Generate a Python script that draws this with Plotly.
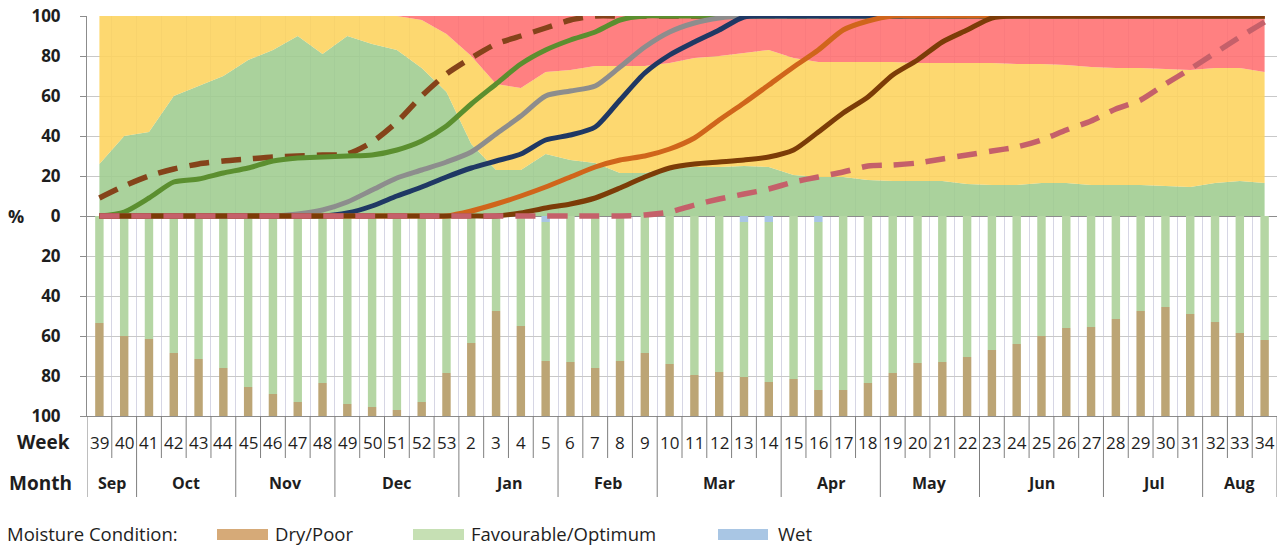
import plotly.graph_objects as go

# ---------------- data ----------------
weeks = [39, 40, 41, 42, 43, 44, 45, 46, 47, 48, 49, 50, 51, 52, 53,
         2, 3, 4, 5, 6, 7, 8, 9, 10, 11, 12, 13, 14, 15, 16, 17, 18,
         19, 20, 21, 22, 23, 24, 25, 26, 27, 28, 29, 30, 31, 32, 33, 34]
month_names = ["Sep", "Oct", "Nov", "Dec", "Jan", "Feb", "Mar", "Apr", "May", "Jun", "Jul", "Aug"]
month_week_counts = [2, 4, 4, 5, 4, 4, 5, 4, 4, 5, 4, 3]

# top panel: stacked bands (upper boundary of each band, %)
green_band_top = [26, 40, 42, 60, 65, 70, 78, 83, 90, 81, 90, 86, 83, 74, 62,
                  36, 23, 23, 31, 28, 26.5, 21.5, 21.5, 24, 24.5, 24.5, 25, 24.5, 20.5, 19.5, 19.5, 18,
                  17.5, 17.5, 17.5, 16, 15.5, 15.5, 16.5, 16.5, 15.5, 15.5, 15.5, 15, 14.5, 16.5, 17.5, 16.5]
yellow_band_top = [100, 100, 100, 100, 100, 100, 100, 100, 100, 100, 100, 100, 100, 98, 91,
                   80, 66, 64, 72, 73, 75, 75, 75, 76.5, 79, 80, 81.5, 83, 79, 77, 77, 77,
                   77, 76.5, 76.5, 76.5, 76.5, 76, 76, 75.5, 74.5, 74, 74, 73.5, 73, 74, 74, 72]
red_band_top = [100] * 48

# top panel: cumulative curves (%)
dashed_brown = [9, 15, 20, 23.5, 26, 27.5, 28.5, 29.5, 30, 30.5, 31, 37, 47, 60, 71,
                79, 86, 90, 94, 98, 100, 100, 100, 100, 100, 100, 100, 100, 100, 100, 100, 100,
                100, 100, 100, 100, 100, 100, 100, 100, 100, 100, 100, 100, 100, 100, 100, 100]
green_curve = [0, 2, 9, 17, 18.5, 21.5, 24, 27.5, 29, 29.5, 30, 30.5, 33, 37.5, 45,
               56, 66, 76, 83, 88, 92, 98, 100, 100, 100, 100, 100, 100, 100, 100, 100, 100,
               100, 100, 100, 100, 100, 100, 100, 100, 100, 100, 100, 100, 100, 100, 100, 100]
gray_curve = [0, 0, 0, 0, 0, 0, 0, 0, 1, 3, 7, 13, 19, 23, 27,
              32, 41, 50, 60, 62.5, 65, 74.5, 84.5, 92, 96.5, 99, 100, 100, 100, 100, 100, 100,
              100, 100, 100, 100, 100, 100, 100, 100, 100, 100, 100, 100, 100, 100, 100, 100]
navy_curve = [0, 0, 0, 0, 0, 0, 0, 0, 0, 0, 1.5, 5, 10, 14.5, 19.5,
              24, 27.5, 31, 38, 40.5, 44.5, 58, 71.5, 80.5, 87, 93, 99.5, 100, 100, 100, 100, 100,
              100, 100, 100, 100, 100, 100, 100, 100, 100, 100, 100, 100, 100, 100, 100, 100]
orange_curve = [0, 0, 0, 0, 0, 0, 0, 0, 0, 0, 0, 0, 0, 0, 0,
                2.5, 6, 10, 14.5, 19.5, 24.5, 28, 30, 33.5, 39, 48, 56.5, 65.5, 74.5, 83, 93, 97.5,
                100, 100, 100, 100, 100, 100, 100, 100, 100, 100, 100, 100, 100, 100, 100, 100]
darkbrown_curve = [0, 0, 0, 0, 0, 0, 0, 0, 0, 0, 0, 0, 0, 0, 0,
                   0, 0, 1.5, 4, 6, 9, 14, 19.5, 24, 26, 27, 28, 29.5, 33, 42, 51.5, 59.5,
                   70.5, 78, 87, 93, 99, 100, 100, 100, 100, 100, 100, 100, 100, 100, 100, 100]
pink_dashed = [0, 0, 0, 0, 0, 0, 0, 0, 0, 0, 0, 0, 0, 0, 0,
               0, 0, 0, 0, 0, 0, 0, 0.5, 2, 5.5, 8.5, 11, 13.5, 17, 19.5, 22, 25,
               25.5, 26.5, 28.5, 30.5, 32.5, 34.5, 38, 43, 47.5, 53.5, 58, 66, 73.5, 81.5, 89.5, 97]

# bottom panel: moisture condition (%)
wet = [0, 0, 0, 0, 0, 0, 0, 0, 0, 0, 0, 0, 0, 0, 0,
       0, 0, 0, 3, 0, 0, 0, 0, 0, 0, 0, 3, 3, 0, 3, 0, 0,
       0, 0, 0, 0, 0, 0, 0, 0, 0, 0, 0, 0, 0, 0, 0, 0]
favourable = [53.5, 60, 61.5, 68.5, 71.5, 76, 85.5, 89, 93, 83.5, 94, 95.5, 97, 93, 78.5,
              63.5, 47.5, 55, 69.5, 73, 76, 72.5, 68.5, 74, 79.5, 78, 77.5, 80, 81.5, 84, 87, 83.5,
              78.5, 73.5, 73, 70.5, 67, 64, 60, 56, 55.5, 51.5, 47.5, 45.5, 49, 53, 58.5, 62]
dry = [46.5, 40, 38.5, 31.5, 28.5, 24, 14.5, 11, 7, 16.5, 6, 4.5, 3, 7, 21.5,
       36.5, 52.5, 45, 27.5, 27, 24, 27.5, 31.5, 26, 20.5, 22, 19.5, 17, 18.5, 13, 13, 16.5,
       21.5, 26.5, 27, 29.5, 33, 36, 40, 44, 44.5, 48.5, 52.5, 54.5, 51, 47, 41.5, 38]

y_tick_vals = [-100, -80, -60, -40, -20, 0, 20, 40, 60, 80, 100]
y_tick_text = ["100", "80", "60", "40", "20", "0", "20", "40", "60", "80", "100"]

# ---------------- figure ----------------
FONT = "Open Sans"
TXT = "#1e1e1e"
x = list(range(len(weeks)))
fig = go.Figure()

# bands (non-overlapping fills so grid shows faintly through)
fig.add_trace(go.Scatter(x=x, y=green_band_top, mode="none", fill="tozeroy",
                         fillcolor="rgba(158,204,142,0.88)", hoverinfo="skip"))
fig.add_trace(go.Scatter(x=x, y=yellow_band_top, mode="none", fill="tonexty",
                         fillcolor="rgba(253,211,92,0.88)", hoverinfo="skip"))
fig.add_trace(go.Scatter(x=x, y=red_band_top, mode="none", fill="tonexty",
                         fillcolor="rgba(255,110,111,0.88)", hoverinfo="skip"))

# bars below zero (stacked downward)
bw = 0.34
fig.add_trace(go.Bar(x=x, y=[-v for v in wet], width=bw, marker_color="#a9c6e4", marker_line_width=0))
fig.add_trace(go.Bar(x=x, y=[-v for v in favourable], width=bw, marker_color="#b5d6a4", marker_line_width=0))
fig.add_trace(go.Bar(x=x, y=[-v for v in dry], width=bw, marker_color="#bca575", marker_line_width=0))

# curves
def curve(vals, color, width=5, dash="solid"):
    fig.add_trace(go.Scatter(x=x, y=vals, mode="lines",
                             line=dict(color=color, width=width, dash=dash, shape="spline", smoothing=0.7),
                             hoverinfo="skip"))

curve(dashed_brown, "#85431a", 5.5, "20px,12px")
curve(green_curve, "#5b8f2f")
curve(gray_curve, "#8d8d8d")
curve(navy_curve, "#1f3864")
curve(orange_curve, "#d0651b")
curve(darkbrown_curve, "#7c3c07")
curve(pink_dashed, "#c5606a", 5.5, "20px,12px")

fig.update_layout(
    width=1287, height=547,
    margin=dict(l=87, r=10, t=16, b=131, autoexpand=False),
    plot_bgcolor="white", paper_bgcolor="white",
    showlegend=False, barmode="relative",
    font=dict(family=FONT, color=TXT),
)
fig.update_xaxes(range=[-0.5, len(weeks) - 0.5], tickmode="linear", tick0=-0.5, dtick=1,
                 showticklabels=False, ticks="", showgrid=True, gridcolor="#d6d6e4", gridwidth=1,
                 zeroline=False, showline=True, linecolor="#8c8c8c", linewidth=1, automargin=False)
fig.update_yaxes(range=[-100, 100], tickmode="array", tickvals=y_tick_vals,
                 ticktext=["<b>%s</b>" % t for t in y_tick_text],
                 tickfont=dict(family=FONT, size=17, color=TXT),
                 ticks="outside", ticklen=6, tickcolor="#8c8c8c", ticklabelstandoff=16,
                 ticklabeloverflow="allow",
                 showgrid=True, gridcolor="#c8c8c8", gridwidth=1,
                 zeroline=True, zerolinecolor="#8c8c8c", zerolinewidth=1,
                 showline=True, linecolor="#8c8c8c", linewidth=1, automargin=False)

# page-pixel helpers (plot area spans x 87..1277, y 16..416)
plot_left, plot_w, plot_top, plot_h = 87, 1190, 16, 400
def px(X):
    return (X - plot_left) / plot_w
def py(Y):
    return (plot_top + plot_h - Y) / plot_h

ann = []
shapes = []
def text(xv, yv, s, size, xref="paper", xanchor="center", bold=False):
    ann.append(dict(x=xv, y=yv, xref=xref, yref="paper", text=("<b>%s</b>" % s) if bold else s,
                    showarrow=False, xanchor=xanchor, yanchor="middle",
                    font=dict(size=size, family=FONT, color=TXT)))

text(px(16), py(216), "%", 18, bold=True)

# week row
for i, w in enumerate(weeks):
    text(i, py(442), str(w), 17, xref="x")
text(px(44), py(442), "Week", 19, bold=True)
text(px(40), py(483), "Month", 19, bold=True)

# month row
month_bounds = [0]
for c in month_week_counts:
    month_bounds.append(month_bounds[-1] + c)
for name, a, b in zip(month_names, month_bounds[:-1], month_bounds[1:]):
    text((a + b - 1) / 2, py(483), name, 16, xref="x", bold=True)

# separators
for k in range(len(weeks) + 1):
    long_ = k in month_bounds
    shapes.append(dict(type="line", xref="x", yref="paper", x0=k - 0.5, x1=k - 0.5,
                       y0=0, y1=py(497) if long_ else py(458),
                       line=dict(color="#7f7f7f", width=1)))

# legend
text(px(5), py(533), "Moisture Condition:", 18.5, xanchor="left")
legend_items = [("Dry/Poor", "#d6aa78", 217, 268, 273),
                ("Favourable/Optimum", "#c6e0b4", 413, 464, 469),
                ("Wet", "#a9c6e4", 718, 768, 776)]
for label, col, x0, x1, xt in legend_items:
    shapes.append(dict(type="rect", xref="paper", yref="paper", x0=px(x0), x1=px(x1),
                       y0=py(540), y1=py(529), fillcolor=col, line=dict(width=0)))
    text(px(xt), py(533), label, 18.5, xanchor="left")

fig.update_layout(annotations=ann, shapes=shapes)
fig.write_html("out.html", config={"displayModeBar": False},
               post_script="document.body.style.margin='0px';")
